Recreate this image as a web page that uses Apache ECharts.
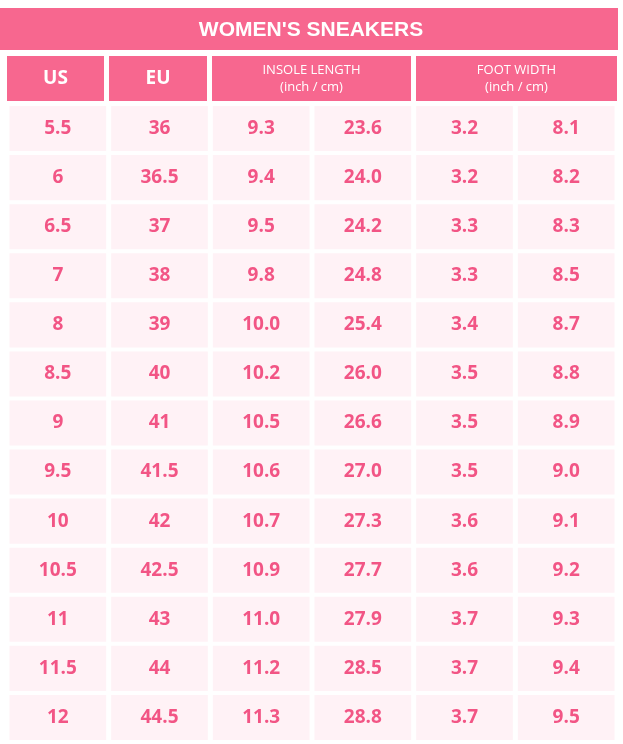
<!DOCTYPE html>
<html><head><meta charset="utf-8">
<script src="https://cdn.jsdelivr.net/npm/echarts@6/dist/echarts.min.js"></script>
<style>html,body{margin:0;padding:0;background:#fff}#c{width:623px;height:744px}</style>
</head><body><div id="c"></div>
<script>
const title = "WOMEN'S SNEAKERS";
const headers = ["US","EU","INSOLE LENGTH\n(inch / cm)","FOOT WIDTH\n(inch / cm)"];
const us = ["5.5","6","6.5","7","8","8.5","9","9.5","10","10.5","11","11.5","12"];
const eu = ["36","36.5","37","38","39","40","41","41.5","42","42.5","43","44","44.5"];
const insoleInch = ["9.3","9.4","9.5","9.8","10.0","10.2","10.5","10.6","10.7","10.9","11.0","11.2","11.3"];
const insoleCm = ["23.6","24.0","24.2","24.8","25.4","26.0","26.6","27.0","27.3","27.7","27.9","28.5","28.8"];
const footInch = ["3.2","3.2","3.3","3.3","3.4","3.5","3.5","3.5","3.6","3.6","3.7","3.7","3.7"];
const footCm = ["8.1","8.2","8.3","8.5","8.7","8.8","8.9","9.0","9.1","9.2","9.3","9.4","9.5"];

const cols = [us, eu, insoleInch, insoleCm, footInch, footCm];
const data = [];
cols.forEach((col, c) => col.forEach((v, r) => data.push([c, r, v])));

const PINK = '#f7678f', LIGHT = '#fff2f6', TXT = '#f25585';
const chart = echarts.init(document.getElementById('c'));
const hdr = (x, w, text, big) => ({
  type: 'group', children: [
    {type:'rect', shape:{x:x, y:56, width:w, height:45}, style:{fill:PINK}},
    {type:'text', x:x+w/2, y:79, style:{text:text, fill:'#fff', align:'center', verticalAlign:'middle',
      font: big ? 'bold 19px "Open Sans"' : '13px "Open Sans"', lineHeight:17}}
  ]});
chart.setOption({
  animation:false,
  grid:{left:7, right:6, top:104, bottom:2},
  xAxis:{type:'category', data:[0,1,2,3,4,5], show:false},
  yAxis:{type:'category', data:us, inverse:true, show:false},
  graphic:[
    {type:'rect', shape:{x:0, y:8, width:618, height:42}, style:{fill:PINK}},
    {type:'text', x:311, y:30, style:{text:title, fill:'#fff', align:'center', verticalAlign:'middle', font:'bold 21px "Liberation Sans"'}},
    hdr(7, 97, headers[0], true),
    hdr(109, 98, headers[1], true),
    hdr(212, 199, headers[2], false),
    hdr(416, 201, headers[3], false)
  ],
  series:[{
    type:'custom',
    data:data,
    renderItem:(params, api) => {
      const p = api.coord([api.value(0), api.value(1)]);
      const s = api.size([1, 1]);
      const w = s[0] - 5, h = s[1] - 4;
      return {type:'group', children:[
        {type:'rect', shape:{x:p[0]-w/2, y:p[1]-h/2, width:w, height:h}, style:{fill:LIGHT}},
        {type:'text', x:p[0], y:p[1], style:{text:data[params.dataIndex][2], fill:TXT,
          align:'center', verticalAlign:'middle', font:'bold 19px "Open Sans"'}}
      ]};
    }
  }]
});
</script></body></html>
